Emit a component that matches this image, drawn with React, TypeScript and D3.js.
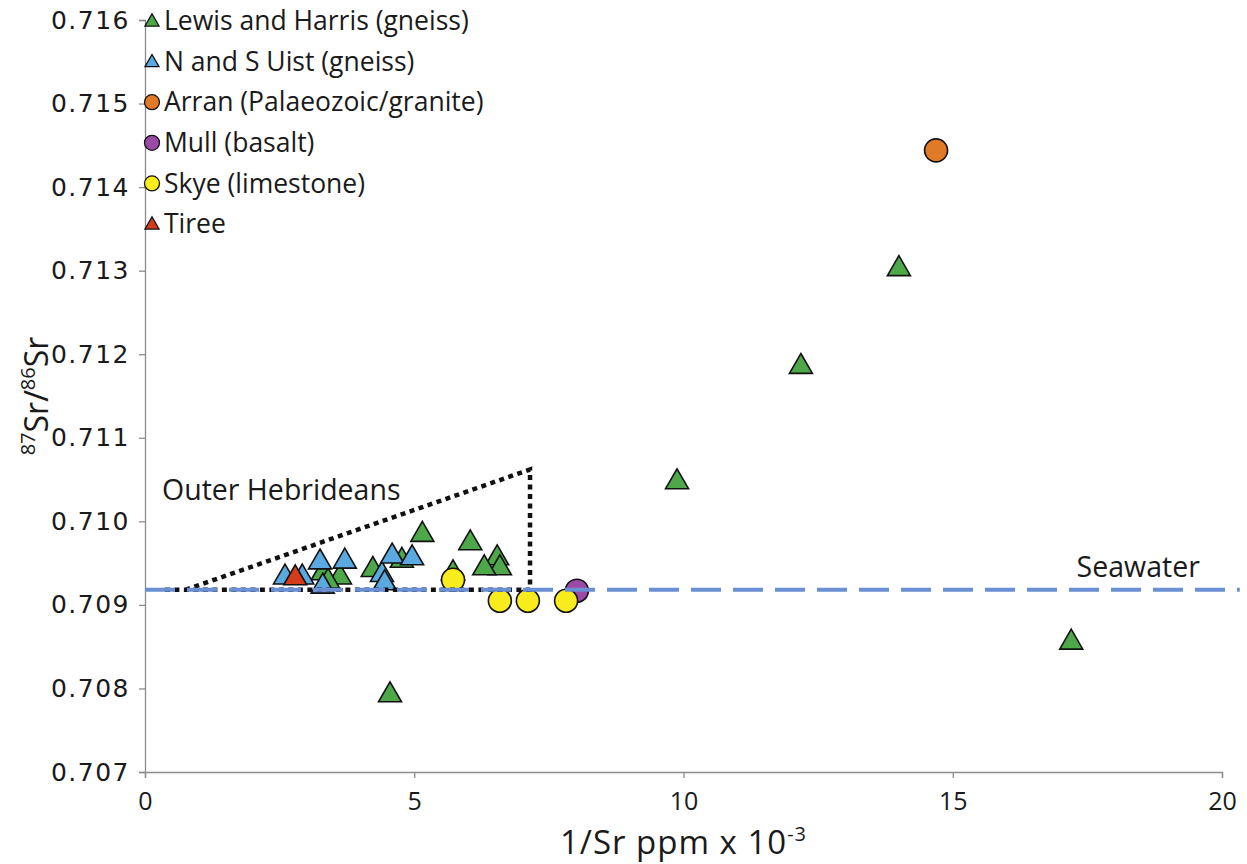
import React, { useRef, useEffect } from 'react';
import * as d3 from 'd3';

// 1/Sr (ppm x 10^-3) vs 87Sr/86Sr
const lewisHarris = [
  [14.0, 0.71302], [12.18, 0.71185], [9.88, 0.71047], [17.2, 0.70855], [4.55, 0.70792],
  [5.15, 0.70984], [6.04, 0.70974], [6.54, 0.70956], [6.59, 0.70944], [6.3, 0.70944],
  [3.3, 0.70938], [3.62, 0.70933], [4.23, 0.70942], [4.77, 0.70953], [3.4, 0.70928],
  [5.72, 0.70938],
];
const uist = [
  [2.6, 0.70933], [2.92, 0.70933], [3.25, 0.70951], [3.71, 0.70952], [4.4, 0.70936],
  [4.59, 0.70958], [4.96, 0.70956], [3.3, 0.70922], [4.45, 0.70926],
];
const arran = [[14.69, 0.71444]];
const mull = [[8.02, 0.70917]];
const skye = [[5.72, 0.7093], [6.59, 0.70905], [7.11, 0.70905], [7.82, 0.70905]];
const tiree = [[2.79, 0.70932]];

const seriesNames = [
  'Lewis and Harris (gneiss)',
  'N and S Uist (gneiss)',
  'Arran (Palaeozoic/granite)',
  'Mull (basalt)',
  'Skye (limestone)',
  'Tiree',
];
const seriesData = [lewisHarris, uist, arran, mull, skye, tiree];
const seriesColors = ['#4ea84a', '#5aa9e0', '#e07a26', '#9c4aa8', '#f8ec1c', '#d43c1c'];
const seriesShapes = ['triangle', 'triangle', 'circle', 'circle', 'circle', 'triangle'];

const xTicks = [0, 5, 10, 15, 20];
const yTicks = [0.707, 0.708, 0.709, 0.71, 0.711, 0.712, 0.713, 0.714, 0.715, 0.716];

const seawater = 0.70918;
const seawaterExtent = [0, 20.33];
// Outer Hebrideans envelope: start, apex
const envelope = [[0.75, 0.70918], [7.15, 0.71062]];

const W = 1247;
const H = 864;
const margin = { top: 20, right: 25, bottom: 92, left: 145 };

export default function App() {
  const svgRef = useRef(null);

  useEffect(() => {
    const svg = d3.select(svgRef.current);
    svg.selectAll('*').remove();

    const x = d3.scaleLinear().domain([0, 20]).range([margin.left, W - margin.right]);
    const y = d3.scaleLinear().domain([0.707, 0.716]).range([H - margin.bottom, margin.top]);

    const sans = "'Open Sans', Lato, sans-serif";
    const ink = '#1a1a1a';
    const axisColor = '#8c8c8c';

    // axes
    const yAxis = svg.append('g')
      .attr('transform', `translate(${margin.left},0)`)
      .call(d3.axisLeft(y).tickValues(yTicks).tickSize(6).tickPadding(9).tickFormat(d3.format('.3f')));
    yAxis.selectAll('text')
      .style('font-family', "'DejaVu Sans', Verdana, sans-serif")
      .style('font-size', '25px')
      .style('letter-spacing', '1.5px')
      .attr('fill', ink);

    const xAxis = svg.append('g')
      .attr('transform', `translate(0,${y(0.707)})`)
      .call(d3.axisBottom(x).tickValues(xTicks).tickSize(6).tickPadding(14).tickFormat(d3.format('d')));
    xAxis.selectAll('text')
      .style('font-family', sans)
      .style('font-size', '25px')
      .attr('fill', ink);

    [xAxis, yAxis].forEach(a => {
      a.selectAll('path, line').attr('stroke', axisColor).attr('stroke-width', 1.3);
    });

    // axis titles
    const xt = svg.append('text')
      .attr('x', x(10))
      .attr('y', 854)
      .attr('text-anchor', 'middle')
      .style('font-family', sans)
      .style('font-size', '33px')
      .style('letter-spacing', '1px')
      .attr('fill', ink);
    xt.append('tspan').text('1/Sr ppm x 10');
    xt.append('tspan').attr('dy', -13).style('font-size', '20px').text('-3');

    const yt = svg.append('text')
      .attr('transform', `translate(48,${(y(0.7115))}) rotate(-90)`)
      .attr('text-anchor', 'middle')
      .style('font-family', sans)
      .style('font-size', '32px')
      .attr('fill', ink);
    yt.append('tspan').attr('dy', -13).style('font-size', '20px').text('87');
    yt.append('tspan').attr('dy', 13).text('Sr/');
    yt.append('tspan').attr('dy', -13).style('font-size', '20px').text('86');
    yt.append('tspan').attr('dy', 13).text('Sr');

    const symbolFor = (shape, big) => {
      if (shape === 'triangle') {
        const s = big ? 23 : 14;
        return d3.symbol(d3.symbolTriangle, Math.sqrt(3) / 4 * s * s)();
      }
      const r = big ? 11.5 : 7.5;
      return d3.symbol(d3.symbolCircle, Math.PI * r * r)();
    };

    // points
    seriesData.forEach((data, i) => {
      svg.append('g')
        .selectAll('path')
        .data(data)
        .enter()
        .append('path')
        .attr('d', symbolFor(seriesShapes[i], true))
        .attr('transform', d => `translate(${x(d[0])},${y(d[1])})`)
        .attr('fill', seriesColors[i])
        .attr('stroke', '#111')
        .attr('stroke-width', 1.6);
    });

    // Outer Hebrideans envelope (dotted)
    const [p0, p1] = envelope;
    const line = d3.line().x(d => x(d[0])).y(d => y(d[1]));
    svg.append('path')
      .attr('d', line([[p0[0], p0[1]], [p1[0], p1[1]], [p1[0], seawater], [p0[0] - 0.4, seawater]]))
      .attr('fill', 'none')
      .attr('stroke', '#111')
      .attr('stroke-width', 4.5)
      .attr('stroke-dasharray', '5 4.5');

    // seawater
    svg.append('path')
      .attr('d', line([[seawaterExtent[0], seawater], [seawaterExtent[1], seawater]]))
      .attr('fill', 'none')
      .attr('stroke', '#6a8fd2')
      .attr('stroke-width', 4)
      .attr('stroke-dasharray', '30 12');

    svg.append('text')
      .attr('x', x(17.3))
      .attr('y', y(seawater) - 13)
      .style('font-family', sans)
      .style('font-size', '28.5px')
      .attr('fill', ink)
      .text('Seawater');

    svg.append('text')
      .attr('x', 162)
      .attr('y', y(0.71026))
      .style('font-family', sans)
      .style('font-size', '28.5px')
      .attr('fill', ink)
      .text('Outer Hebrideans');

    // legend
    const legend = svg.append('g').attr('transform', 'translate(152,21)');
    seriesNames.forEach((name, i) => {
      const row = legend.append('g').attr('transform', `translate(0,${i * 40.6})`);
      row.append('path')
        .attr('d', symbolFor(seriesShapes[i], false))
        .attr('transform', seriesShapes[i] === 'triangle' ? 'translate(0,1)' : null)
        .attr('fill', seriesColors[i])
        .attr('stroke', '#111')
        .attr('stroke-width', 1.3);
      row.append('text')
        .attr('x', 12)
        .attr('dy', '0.35em')
        .style('font-family', sans)
        .style('font-size', '26.5px')
        .attr('fill', ink)
        .text(name);
    });
  }, []);

  return (
    <svg
      ref={svgRef}
      width={W}
      height={H}
      style={{ position: 'absolute', left: 0, top: 0, background: '#fff' }}
    />
  );
}
